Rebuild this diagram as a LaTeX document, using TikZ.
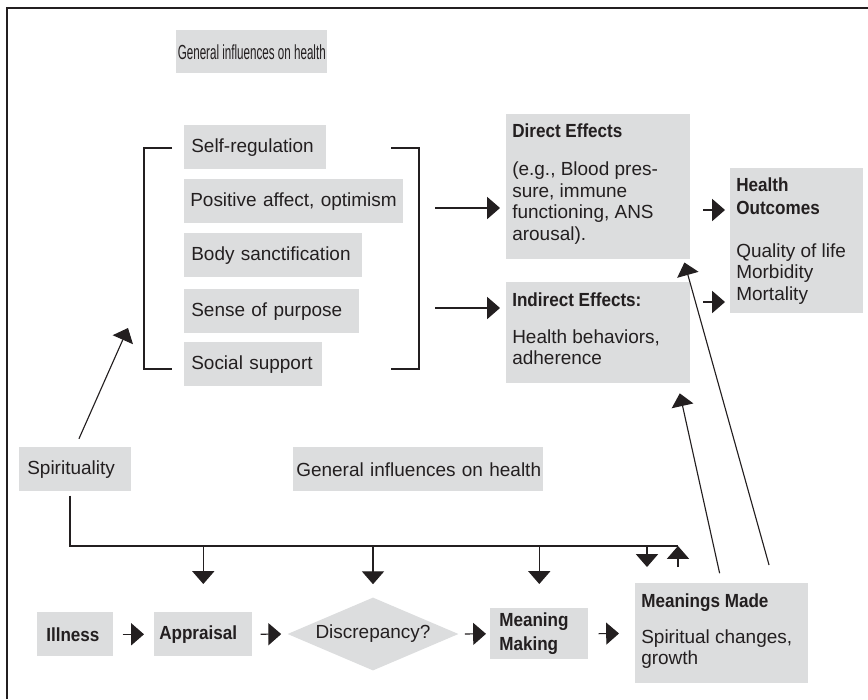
\documentclass[tikz,border=0pt]{standalone}
\usepackage{fontspec}
\setmainfont{Liberation Sans}
\usepackage{graphicx}
\usepackage{xcolor}
\usetikzlibrary{arrows.meta,shapes.geometric}

\definecolor{boxgray}{HTML}{DCDDDE}
\definecolor{ink}{HTML}{231F20}
\newcommand{\hd}[1]{\scalebox{0.9}[1]{\bfseries #1}}
\newcommand{\narrow}[1]{\scalebox{0.57}[1]{#1}}

\tikzset{
  box/.style={fill=boxgray, text=ink, anchor=north west, align=left, inner xsep=0.175cm, inner ysep=0pt, minimum height=1.1cm},
  panel/.style={fill=boxgray, anchor=north west, inner sep=0pt},
  paneltext/.style={text=ink, anchor=north west, align=left, inner sep=0pt},
  wire/.style={draw=ink, line width=0.8pt},
  arr/.style={draw=ink, line width=0.8pt, -{Triangle[width=0.55cm,length=0.32cm]}}
}

\begin{document}
\begin{tikzpicture}[x=0.025cm, y=-0.025cm, font=\fontsize{13.5}{15.2}\selectfont]
	\useasboundingbox (0,0) rectangle (868,699);
	\draw[ink, line width=1.2pt] (7,699) -- (7,8) -- (868,8);

	% general influences
	\node[box, align=center, inner xsep=0pt, minimum width=3.775cm, minimum height=1.075cm,
	      font=\fontsize{14.5}{16}\selectfont] (gentop) at (176,30) {\narrow{General influences on health}};
	\node[box, inner xsep=0.075cm, text width=6.1cm] (genmid) at (293,447) {\mbox{General influences on health}};

	% pathways
	\node[box, text width=3.2cm] (selfreg) at (184,125) {\mbox{Self-regulation}};
	\node[box, inner xsep=0.15cm, text width=5.175cm] (posaff) at (184,179) {\mbox{Positive affect, optimism}};
	\node[box, text width=4.1cm] (sanctify) at (184,233) {\mbox{Body sanctification}};
	\node[box, text width=4.02cm] (purpose) at (184,289) {\mbox{Sense of purpose}};
	\node[box, text width=3.1cm] (support) at (184,342) {\mbox{Social support}};
	\draw[wire] (172,148) -- (144,148) -- (144,369) -- (172,369);
	\draw[wire] (391,148) -- (419,148) -- (419,369) -- (391,369);

	% effects
	\node[panel, minimum width=4.6cm, minimum height=3.625cm] (direct) at (506,114) {};
	\node[paneltext] (directtext) at ([xshift=0.15cm, yshift=-0.24cm]direct.north west)
		{\hd{Direct Effects}\\[12pt](e.g., Blood pres-\\sure, immune\\functioning, ANS\\arousal).};
	\node[panel, minimum width=4.6cm, minimum height=2.525cm] (indirect) at (506,282) {};
	\node[paneltext] (indirecttext) at ([xshift=0.15cm, yshift=-0.25cm]indirect.north west)
		{\hd{Indirect Effects:}\\[11.5pt]Health behaviors,\\adherence};
	\node[panel, minimum width=3.325cm, minimum height=3.625cm] (outcomes) at (730,168) {};
	\node[paneltext] (outcomestext) at ([xshift=0.15cm, yshift=-0.23cm]outcomes.north west)
		{\hd{Health}\\[1pt]\hd{Outcomes}\\[15.8pt]Quality of life\\Morbidity\\Mortality};

	% meaning making model
	\node[box, inner xsep=0.2cm, text width=2.4cm] (spirit) at (19,447) {\mbox{Spirituality}};
	\node[box, inner xsep=0.225cm, text width=1.45cm] (illness) at (37,612) {\hd{Illness}};
	\node[box, inner xsep=0.125cm, text width=2.2cm] (appraisal) at (154,612) {\hd{Appraisal}};
	\node[diamond, aspect=2.34, fill=boxgray, text=ink, inner sep=0pt,
	      minimum width=4.275cm, minimum height=1.825cm] (discrepancy) at (373,634) {Discrepancy?};
	\node[box, inner xsep=0.225cm, text width=2.0cm, minimum height=1.275cm] (making) at (490,608)
		{\hd{Meaning}\\[1.8pt]\hd{Making}};
	\node[panel, minimum width=4.325cm, minimum height=2.5cm] (madebox) at (635,583) {};
	\node[paneltext] (madetext) at ([xshift=0.15cm, yshift=-0.25cm]madebox.north west)
		{\hd{Meanings Made}\\[10.8pt]Spiritual changes,\\growth};

	% connectors
	\coordinate (toDirect) at (435,208);
	\coordinate (toIndirect) at (435,308);
	\coordinate (toHealthA) at (703,210);
	\coordinate (toHealthB) at (703,302);
	\draw[arr, shorten >=0.15cm] (toDirect) -- (toDirect -| direct.west);
	\draw[arr, shorten >=0.15cm] (toIndirect) -- (toIndirect -| indirect.west);
	\draw[arr, shorten >=0.125cm] (toHealthA) -- (toHealthA -| outcomes.west);
	\draw[arr, shorten >=0.125cm] (toHealthB) -- (toHealthB -| outcomes.west);

	\coordinate (spiritTip) at (128,328);
	\draw[arr, shorten <=0.225cm] (spirit.north) -- (spiritTip);

	\coordinate (busL) at (70,546);
	\coordinate (busR) at (678,546);
	\coordinate (mmDown) at (647,567);
	\coordinate (mmUp) at (678,567);
	\draw[wire, shorten <=0.1cm] (busL |- spirit.south) -- (busL) -- (busR);
	\draw[arr, shorten >=0.7cm] (appraisal.north |- busL) -- (appraisal.north);
	\draw[arr, shorten >=0.325cm] (discrepancy.north |- busL) -- (discrepancy.north);
	\draw[arr, shorten >=0.6cm] (making.north |- busL) -- (making.north);
	\draw[arr] (mmDown |- busL) -- (mmDown);
	\draw[arr] (mmUp) -- (busR);

	\draw[arr, shorten <=0.225cm, shorten >=0.25cm] (illness.east) -- (appraisal.west);
	\draw[arr, shorten <=0.2cm, shorten >=0.15cm] (appraisal.east) -- (discrepancy.west);
	\draw[arr, shorten <=0.15cm, shorten >=0.1cm] (discrepancy.east) -- (making.west);
	\draw[arr, shorten <=0.25cm, shorten >=0.4cm] (making.east) -- (madebox.west);

	\draw[arr, shorten <=0.25cm, shorten >=0.25cm] (madebox.north) -- ([xshift=-0.325cm]indirect.south east);
	\draw[arr, shorten >=0.075cm] ([xshift=3.35cm, yshift=0.45cm]madebox.north west) -- ([xshift=-0.175cm]direct.south east);
\end{tikzpicture}
\end{document}
